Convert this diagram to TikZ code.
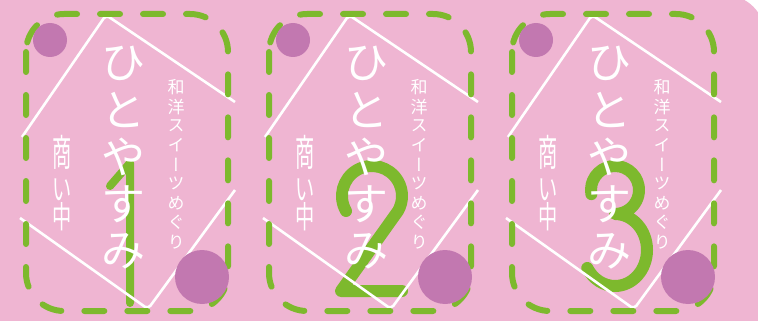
\documentclass[tikz,border=0pt]{standalone}
\usepackage{fontspec}
\usepackage{graphicx}
\newfontfamily\jpfont{Noto Sans CJK JP}
\newfontfamily\jpvfont[RawFeature=+vert]{Noto Sans CJK JP}
\definecolor{bgpink}{RGB}{239,181,210}
\definecolor{matcha}{RGB}{125,185,45}
\definecolor{azuki}{RGB}{194,120,176}

\tikzset{
  cardframe/.style={matcha, line width=6pt, line cap=round, dash pattern=on 20pt off 23pt, rounded corners=38pt},
  hexline/.style={white, line width=2.6pt, rounded corners=4pt},
  numstroke/.style={matcha, line width=12pt, line cap=round, line join=round},
  bigchar/.style={white, inner sep=0pt, font=\jpfont\fontsize{44pt}{44pt}\selectfont},
  smallchar/.style={white, inner sep=0pt, font=\jpvfont\fontsize{17pt}{17pt}\selectfont},
  shopchar/.style={white, inner sep=0pt, font=\jpfont\fontsize{31pt}{31pt}\selectfont},
}

\begin{document}
\begin{tikzpicture}[x=1pt, y=-1pt]
        \useasboundingbox (0,0) rectangle (758,321);
        \fill[white] (0,0) rectangle (758,321);
        \fill[bgpink, rounded corners=40pt] (-60,-5) rectangle (765,380);

        % numbers behind everything
        \draw[numstroke, line width=8pt] (110,186) -- (130,163) -- (130,303);
        \draw[numstroke] (372,196) ++(150:30) arc[start angle=150, end angle=390, radius=30] -- (341,291) -- (402,291);
        \draw[numstroke] (615,190) ++(170:24) arc[start angle=170, end angle=450, radius=24]
            arc[start angle=270, end angle=510, x radius=32, y radius=36];

        \foreach \p in {0,1,2}{
            \begin{scope}[xshift={\p*243pt}]
                \draw[hexline] (22,137) -- (106,15) -- (235,102);
                \draw[hexline] (235,190) -- (148,309) -- (20,218);

                \draw[cardframe] (26,14) rectangle (228,311);

                \foreach \c [count=\k] in {ひ,と,や,す,み}
                    \node[bigchar] (hito-\p-\k) at (123,{16+47*\k}) {\c};
                \foreach \c [count=\k] in {和,洋,ス,イ,ー,ツ,め,ぐ,り}
                    \node[smallchar] (wayo-\p-\k) at (176,{68+19.3*\k}) {\c};
                \node[shopchar] (sho-\p-1) at (62,152) {\scalebox{0.62}[1.2]{商}};
                \node[shopchar] (sho-\p-2) at (62,190) {\scalebox{0.62}[1]{い}};
                \node[shopchar] (sho-\p-3) at (62,217) {\scalebox{0.62}[1]{中}};

                \fill[azuki] (50,40) circle[radius=17];
                \fill[azuki] (202,277) circle[radius=27];
            \end{scope}
        }
\end{tikzpicture}
\end{document}
